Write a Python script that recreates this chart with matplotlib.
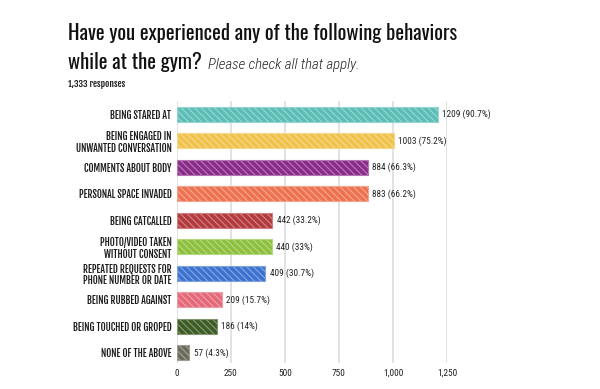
import matplotlib
matplotlib.use("Agg")
import matplotlib.pyplot as plt
from matplotlib import font_manager as fm
import matplotlib.colors as mc
import numpy as np

categories = ["BEING STARED AT", "BEING ENGAGED IN\nUNWANTED CONVERSATION", "COMMENTS ABOUT BODY",
              "PERSONAL SPACE INVADED", "BEING CATCALLED", "PHOTO/VIDEO TAKEN\nWITHOUT CONSENT",
              "REPEATED REQUESTS FOR\nPHONE NUMBER OR DATE", "BEING RUBBED AGAINST",
              "BEING TOUCHED OR GROPED", "NONE OF THE ABOVE"]
values = [1209, 1003, 884, 883, 442, 440, 409, 209, 186, 57]
percents = ["90.7%", "75.2%", "66.3%", "66.2%", "33.2%", "33%", "30.7%", "15.7%", "14%", "4.3%"]
colors = ["#5cbdb7", "#f0c24a", "#8a2a8a", "#ee7150", "#b33a3c", "#8cc03c", "#3c72cf",
          "#e46878", "#3d5c24", "#6a6a5a"]
xticks = [0, 250, 500, 750, 1000, 1250]
xticklabels = ["0", "250", "500", "750", "1,000", "1,250"]

names = {f.name for f in fm.fontManager.ttflist}


def pick(*cands):
    for c in cands:
        if c in names:
            return c
    return "DejaVu Sans"


F_TITLE = pick("Oswald", "Roboto Condensed", "Barlow Condensed", "Archivo Narrow")
F_LAB = pick("Fjalla One", "Antonio", "Barlow Condensed", "Oswald", "Roboto Condensed")
F_VAL = pick("Roboto Condensed", "Oswald", "Barlow Condensed", "Archivo Narrow")
F_IT = pick("Roboto Condensed", "Barlow Condensed", "Archivo Narrow")

plt.rcParams["hatch.linewidth"] = 0.9

fig = plt.figure(figsize=(6, 3.89), dpi=100)
renderer = fig.canvas.get_renderer()


def fit_size(s, target_px, **kw):
    t = fig.text(0, 0, s, fontsize=10, **kw)
    w = t.get_window_extent(renderer=renderer).width
    t.remove()
    return 10 * target_px / w


lab_size = min(fit_size("UNWANTED CONVERSATION", 97, family=F_LAB, fontweight="bold"), 9)
val_size = min(fit_size("1209 (90.7%)", 48, family=F_VAL), 9)
tick_size = min(fit_size("1,000", 20, family=F_VAL), 9)
title_size = min(fit_size("Have you experienced any of the following behaviors", 388,
                          family=F_TITLE, fontweight="normal"), 16)
it_size = min(fit_size("Please check all that apply.", 152, family=F_IT, style="italic",
                       fontweight="light"), 13)
resp_size = min(fit_size("1,333 responses", 58, family=F_LAB, fontweight="bold"), 9)

ax = fig.add_axes([0.295, 0.066, 0.45, 0.674])

y = np.arange(len(values))
for yi, v, c in zip(y, values, colors):
    light = mc.to_rgb(c)
    light = tuple(min(1, x + (1 - x) * 0.35) for x in light)
    ax.barh(yi, v, height=0.56, color=c, edgecolor=light, hatch="\\\\\\\\\\", linewidth=0.8, zorder=3)
    ax.text(v + 20, yi, f"{v} ({percents[yi]})", va="center", ha="left", fontsize=val_size,
            family=F_VAL, color="#222222")

ax.set_ylim(len(values) - 0.6, -0.5)
ax.set_xlim(0, 1250)
ax.set_yticks(y)
ax.set_yticklabels(categories, fontsize=lab_size, fontweight="bold", family=F_LAB,
                   linespacing=1.1, color="#1a1a1a")
ax.set_xticks(xticks)
ax.set_xticklabels(xticklabels, fontsize=tick_size, family=F_VAL, color="#222222")
ax.tick_params(length=0)
ax.tick_params(axis="x", pad=4)
ax.tick_params(axis="y", pad=4)
ax.grid(axis="x", color="#dddddd", linewidth=1.2, zorder=0)
for s in ax.spines.values():
    s.set_visible(False)

X0 = 68 / 600
fig.text(X0, 1 - 40 / 389, "Have you experienced any of the following behaviors", fontsize=title_size,
         fontweight="normal", family=F_TITLE, color="#111111", va="baseline")
t = fig.text(X0, 1 - 69 / 389, "while at the gym?", fontsize=title_size, fontweight="normal",
             family=F_TITLE, color="#111111", va="baseline")
bb = t.get_window_extent(renderer=renderer)
x1 = fig.transFigure.inverted().transform((bb.x1, bb.y0))[0]
fig.text(x1 + 6 / 600, 1 - 69 / 389, "Please check all that apply.", fontsize=it_size, style="italic",
         fontweight="light", family=F_IT, color="#222222", va="baseline")
fig.text(X0, 1 - 87 / 389, "1,333 responses", fontsize=resp_size, fontweight="bold", family=F_LAB,
         color="#1a1a1a", va="baseline")

fig.savefig("out.png", dpi=100, facecolor="white")
